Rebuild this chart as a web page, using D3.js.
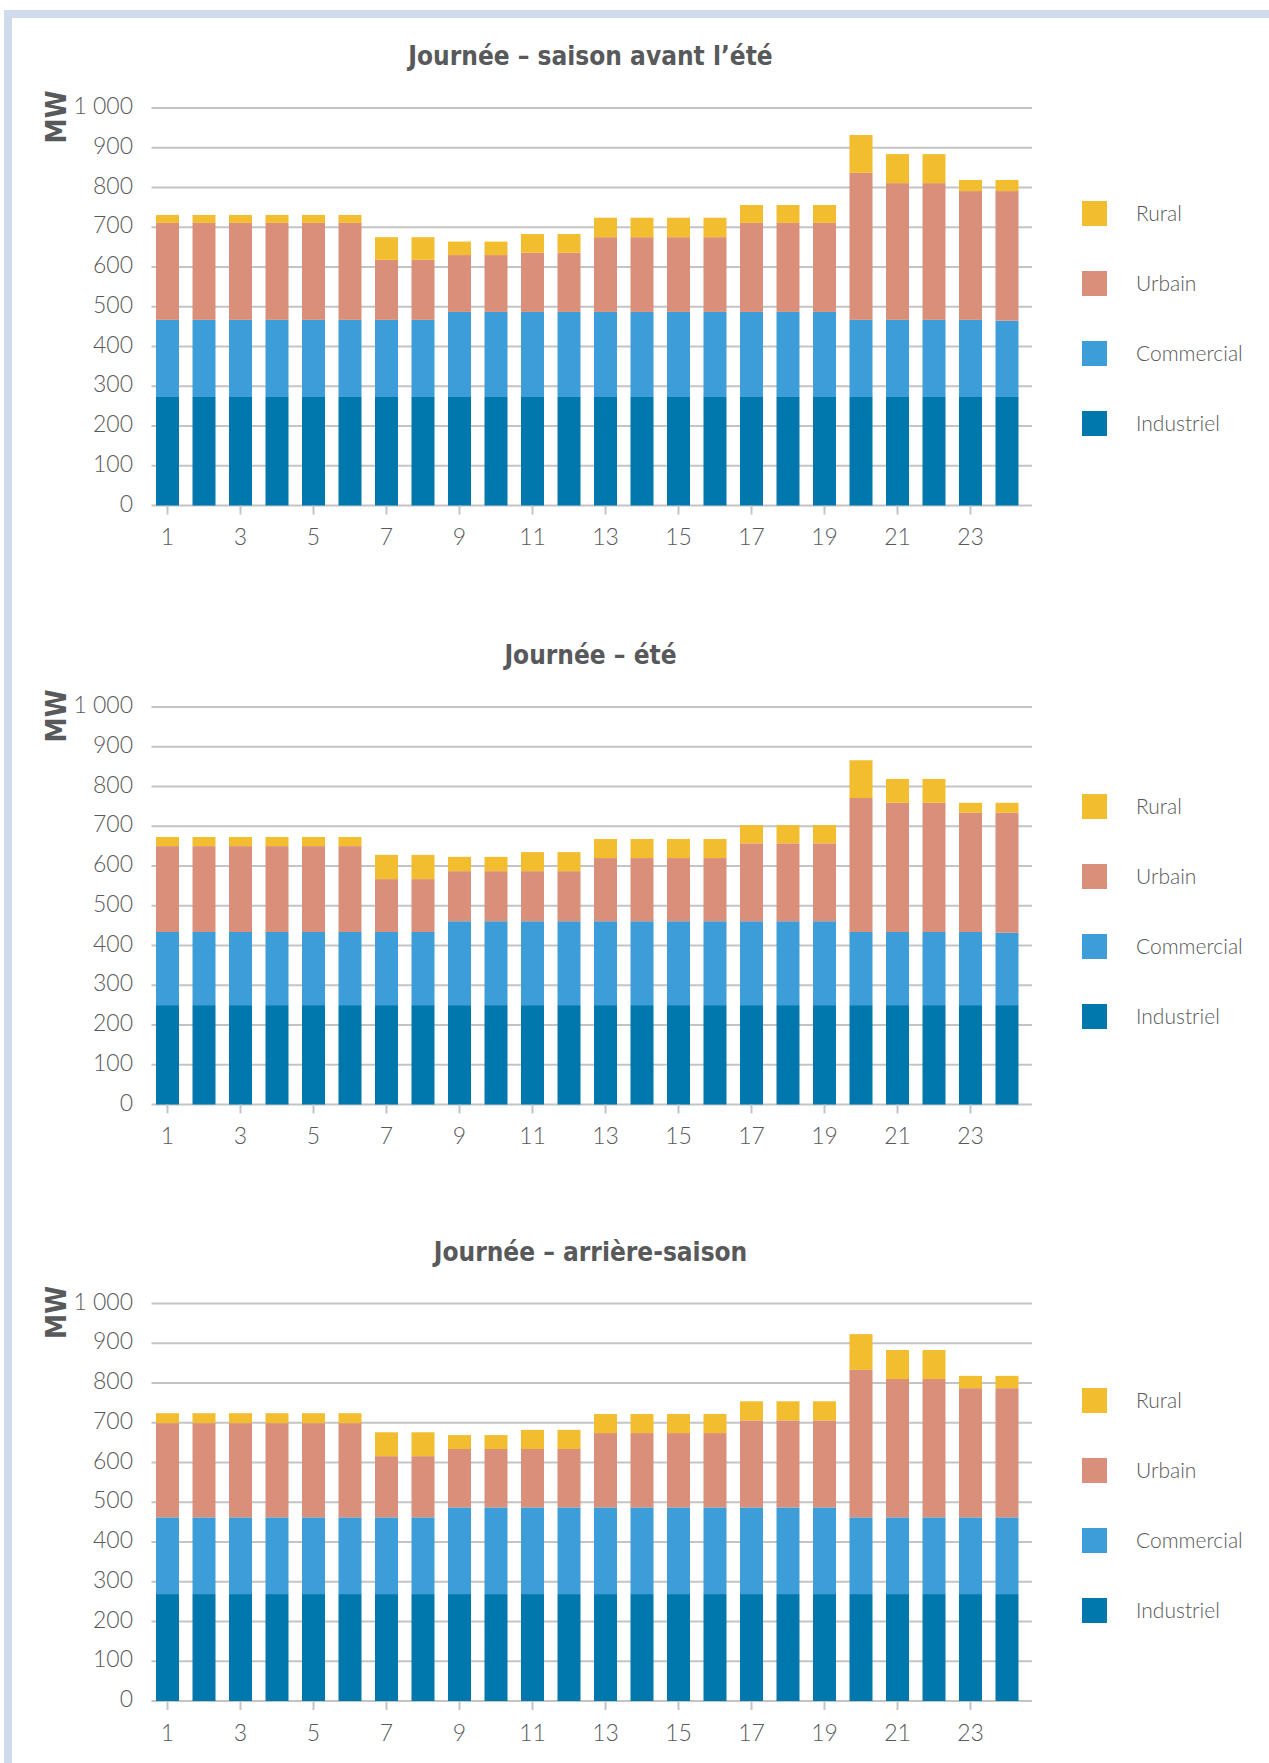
<!DOCTYPE html>
<html lang="fr">

<head>
    <meta charset="UTF-8">
    <title>Journée – consommation par secteur</title>
    <script src="https://cdnjs.cloudflare.com/ajax/libs/d3/7.8.5/d3.min.js"></script>
    <style>
        body {
            margin: 0;
            background: white;
        }

        svg {
            display: block;
        }

        .grid line {
            stroke: #c4c4c4;
            stroke-width: 2;
        }

        .tick-label,
        .hour-label,
        .legend-label {
            font-family: Lato, "Open Sans", sans-serif;
            font-weight: 300;
            fill: #58595b;
        }

        .chart-title,
        .unit {
            font-family: "Liberation Sans Narrow", "DejaVu Sans Condensed", "Liberation Sans", sans-serif;
            font-weight: bold;
            fill: #58595b;
        }
    </style>
</head>

<body>
    <div class="diagram"></div>
    <script>
        // heures 1..24
        const hours = d3.range(1, 25);
        const hourLabels = [1, 3, 5, 7, 9, 11, 13, 15, 17, 19, 21, 23];
        const yTicks = [0, 100, 200, 300, 400, 500, 600, 700, 800, 900, 1000];
        const yTickLabels = ['0', '100', '200', '300', '400', '500', '600', '700', '800', '900', '1 000'];

        const sectors = ['Industriel', 'Commercial', 'Urbain', 'Rural'];
        const legendOrder = ['Rural', 'Urbain', 'Commercial', 'Industriel'];
        const colors = ['#0077ad', '#3c9dd9', '#da8f7b', '#f2bd2e'];

        const titles = ['Journée – saison avant l’été', 'Journée – été', 'Journée – arrière-saison'];

        // MW par heure, saison avant l'été
        const avantIndustriel = [273, 273, 273, 273, 273, 273, 273, 273, 273, 273, 273, 273,
            273, 273, 273, 273, 273, 273, 273, 273, 273, 273, 273, 273];
        const avantCommercial = [194, 194, 194, 194, 194, 194, 194, 194, 214, 214, 214, 214,
            214, 214, 214, 214, 214, 214, 214, 194, 194, 194, 194, 192];
        const avantUrbain = [244, 244, 244, 244, 244, 244, 151, 151, 143, 143, 149, 149,
            188, 188, 188, 188, 224, 224, 224, 370, 344, 344, 324, 326];
        const avantRural = [20, 20, 20, 20, 20, 20, 57, 57, 34, 34, 47, 47,
            49, 49, 49, 49, 45, 45, 45, 95, 73, 73, 28, 28];

        // été
        const eteIndustriel = [250, 250, 250, 250, 250, 250, 250, 250, 250, 250, 250, 250,
            250, 250, 250, 250, 250, 250, 250, 250, 250, 250, 250, 250];
        const eteCommercial = [184, 184, 184, 184, 184, 184, 184, 184, 211, 211, 211, 211,
            211, 211, 211, 211, 211, 211, 211, 184, 184, 184, 184, 182];
        const eteUrbain = [216, 216, 216, 216, 216, 216, 133, 133, 126, 126, 126, 126,
            159, 159, 159, 159, 196, 196, 196, 337, 325, 325, 300, 302];
        const eteRural = [23, 23, 23, 23, 23, 23, 61, 61, 36, 36, 48, 48,
            48, 48, 48, 48, 46, 46, 46, 95, 60, 60, 25, 25];

        // arrière-saison
        const arriereIndustriel = [269, 269, 269, 269, 269, 269, 269, 269, 269, 269, 269, 269,
            269, 269, 269, 269, 269, 269, 269, 269, 269, 269, 269, 269];
        const arriereCommercial = [193, 193, 193, 193, 193, 193, 193, 193, 218, 218, 218, 218,
            218, 218, 218, 218, 218, 218, 218, 193, 193, 193, 193, 193];
        const arriereUrbain = [237, 237, 237, 237, 237, 237, 154, 154, 147, 147, 147, 147,
            187, 187, 187, 187, 219, 219, 219, 371, 348, 348, 325, 325];
        const arriereRural = [25, 25, 25, 25, 25, 25, 60, 60, 35, 35, 48, 48,
            48, 48, 48, 48, 48, 48, 48, 90, 73, 73, 31, 31];

        const seasons = [
            [avantIndustriel, avantCommercial, avantUrbain, avantRural],
            [eteIndustriel, eteCommercial, eteUrbain, eteRural],
            [arriereIndustriel, arriereCommercial, arriereUrbain, arriereRural]
        ];

        const width = 1269;
        const height = 1763;
        const plotTop = [108, 707, 1303.5];
        const plotHeight = 397.5;
        const legendTop = [201, 794, 1388];

        const svg = d3.select('.diagram')
            .append('svg')
            .attr('width', width)
            .attr('height', height);

        // cadre
        svg.append('rect')
            .attr('x', 4).attr('y', 10)
            .attr('width', width - 4).attr('height', 8)
            .attr('fill', '#cfdbea');
        svg.append('rect')
            .attr('x', 4).attr('y', 10)
            .attr('width', 8).attr('height', height - 10)
            .attr('fill', '#cfdbea');

        const x = d3.scaleBand()
            .domain(hours)
            .range([149.25, 1025.25])
            .paddingInner(0.37)
            .paddingOuter(0.185);

        const color = d3.scaleOrdinal().domain(sectors).range(colors);

        seasons.forEach(function(series, s) {
            const top = plotTop[s];
            const y = d3.scaleLinear()
                .domain([0, 1000])
                .range([top + plotHeight, top]);

            const rows = hours.map(function(h, i) {
                let row = { hour: h };
                sectors.forEach(function(k, j) {
                    row[k] = series[j][i];
                });
                return row;
            });
            const stacked = d3.stack().keys(sectors)(rows);

            const g = svg.append('g');

            g.append('text')
                .attr('class', 'chart-title')
                .attr('x', 590.5)
                .attr('y', top - 43)
                .attr('text-anchor', 'middle')
                .attr('font-size', 26)
                .text(titles[s]);

            g.append('text')
                .attr('class', 'unit')
                .attr('transform', 'translate(66,' + (top + 9) + ') rotate(-90)')
                .attr('text-anchor', 'middle')
                .attr('font-size', 28)
                .text('MW');

            g.append('g')
                .attr('class', 'grid')
                .selectAll('line')
                .data(yTicks)
                .enter()
                .append('line')
                .attr('x1', 151.5)
                .attr('x2', 1032)
                .attr('y1', d => y(d))
                .attr('y2', d => y(d));

            g.selectAll('.tick-label')
                .data(yTicks)
                .enter()
                .append('text')
                .attr('class', 'tick-label')
                .attr('x', 133)
                .attr('y', d => y(d) + 6)
                .attr('text-anchor', 'end')
                .attr('font-size', 23)
                .text((d, i) => yTickLabels[i]);

            g.selectAll('.layer')
                .data(stacked)
                .enter()
                .append('g')
                .attr('fill', d => color(d.key))
                .selectAll('rect')
                .data(d => d)
                .enter()
                .append('rect')
                .attr('x', d => x(d.data.hour))
                .attr('width', x.bandwidth())
                .attr('y', d => y(d[1]))
                .attr('height', d => y(d[0]) - y(d[1]));

            // graduations
            g.selectAll('.hour-tick')
                .data(hourLabels)
                .enter()
                .append('line')
                .attr('x1', d => x(d) + x.bandwidth() / 2)
                .attr('x2', d => x(d) + x.bandwidth() / 2)
                .attr('y1', y(0))
                .attr('y2', y(0) + 9)
                .attr('stroke', '#c4c4c4')
                .attr('stroke-width', 2);

            g.selectAll('.hour-label')
                .data(hourLabels)
                .enter()
                .append('text')
                .attr('class', 'hour-label')
                .attr('x', d => x(d) + x.bandwidth() / 2)
                .attr('y', y(0) + 39.5)
                .attr('text-anchor', 'middle')
                .attr('font-size', 23)
                .text(d => d);

            const legend = g.selectAll('.legend')
                .data(legendOrder)
                .enter()
                .append('g')
                .attr('transform', (d, i) => 'translate(1082,' + (legendTop[s] + i * 70) + ')');

            legend.append('rect')
                .attr('width', 25)
                .attr('height', 25)
                .attr('fill', d => color(d));

            legend.append('text')
                .attr('class', 'legend-label')
                .attr('x', 54)
                .attr('y', 20)
                .attr('font-size', 21)
                .text(d => d);
        });
    </script>
</body>

</html>
